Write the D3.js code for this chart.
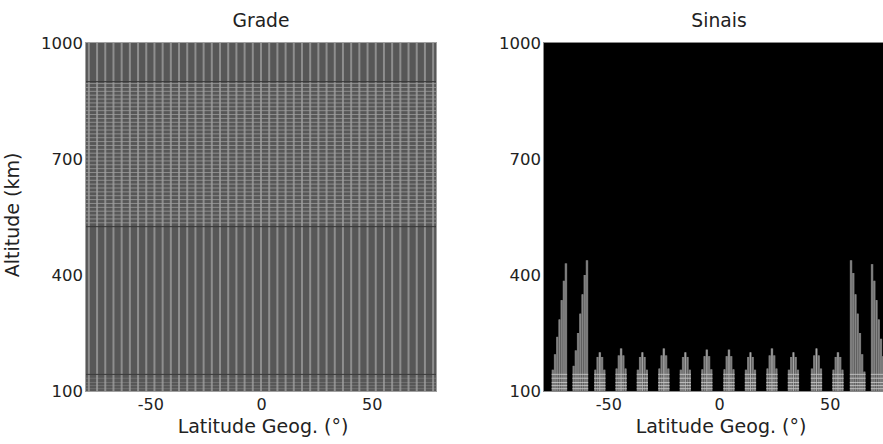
<!DOCTYPE html>
<html>
<head>
<meta charset="utf-8">
<script src="https://cdn.jsdelivr.net/npm/d3@7/dist/d3.min.js"></script>
<style>
  body { margin: 0; background: #fff; }
  text { font-family: "DejaVu Sans", sans-serif; fill: #222; }
</style>
</head>
<body>
<div id="chart"></div>
<script>
/* ============================================= */
/* Data */
/* ============================================= */

const latDomain = [-79, 79];
const altDomain = [100, 1000];
const xTicks = [-50, 0, 50];
const yTicks = [100, 400, 700, 1000];
const panelTitles = ['Grade', 'Sinais'];

// grid (left panel)
const gridLat = [-77.7, -74, -70.3, -66.6, -62.9, -59.2, -55.5, -51.8, -48.1, -44.4, -40.7,
    -37, -33.3, -29.6, -25.9, -22.2, -18.5, -14.8, -11.1, -7.4, -3.7, 0,
    3.7, 7.4, 11.1, 14.8, 18.5, 22.2, 25.9, 29.6, 33.3, 37, 40.7, 44.4,
    48.1, 51.8, 55.5, 59.2, 62.9, 66.6, 70.3, 74, 77.7];
const gridAltUpper = [895, 885, 875, 865, 855, 845, 835, 825, 815, 805, 795, 785, 775,
    765, 755, 745, 735, 725, 715, 705, 695, 685, 675, 665, 655, 645, 635, 625,
    615, 605, 595, 585, 575, 565, 555, 545, 535];
const gridAltLower = [106, 114, 122, 133, 143];
const gridBoundAlt = [900, 525, 143];

// signals (right panel): small spikes
const spikeLat = [-53.8, -44.2, -34.6, -24.9, -15.2, -5.5, 4.5, 14.2, 23.9, 33.6, 44.0, 53.7];
const spikePeak = [200, 210, 200, 210, 200, 207, 207, 200, 210, 200, 210, 200];
const spikeShoulder = [188, 192, 188, 192, 188, 190, 190, 188, 192, 188, 192, 188];
const spikeBase = [155, 158, 155, 158, 155, 156, 156, 155, 158, 155, 158, 155];

// signals (right panel): large spikes near the poles
const bigLat = [
    [-75.0, -74.0, -73.0, -72.0, -71.0, -70.0, -69.1],
    [-65.6, -64.6, -63.6, -62.6, -61.6, -60.6, -59.6],
    [59.6, 60.6, 61.6, 62.6, 63.6, 64.6, 65.6],
    [69.1, 70.1, 71.1, 72.1, 73.1, 74.1, 75.1]
];
const bigTop = [
    [155, 195, 240, 285, 335, 385, 430],
    [165, 205, 250, 300, 350, 400, 438],
    [438, 405, 350, 300, 250, 195, 150],
    [428, 385, 335, 285, 235, 190, 150]
];

/* ============================================= */
/* Layout */
/* ============================================= */

const width = 883, height = 444;
const plotTop = 43, plotBottom = 391;
const panels = [
    { x0: 86, x1: 436 },
    { x0: 544, x1: 894 }
];
const fmt = d => String(d);   // plain hyphen minus, as in the original

const svg = d3.select('#chart').append('svg')
    .attr('width', width)
    .attr('height', height);

const y = d3.scaleLinear().domain(altDomain).range([plotBottom, plotTop]);

panels.forEach((p, i) => {
    p.x = d3.scaleLinear().domain(latDomain).range([p.x0, p.x1]);
    svg.append('clipPath').attr('id', 'clip' + i)
        .append('rect')
        .attr('x', p.x0).attr('y', plotTop)
        .attr('width', p.x1 - p.x0).attr('height', plotBottom - plotTop);
    p.g = svg.append('g').attr('clip-path', `url(#clip${i})`);
});

/* ============================================= */
/* Left panel: grid */
/* ============================================= */

const L = panels[0];
L.g.append('rect')
    .attr('x', L.x0).attr('y', plotTop)
    .attr('width', L.x1 - L.x0).attr('height', plotBottom - plotTop)
    .style('fill', '#575757');

L.g.selectAll('.vgrid').data(gridLat).enter().append('line')
    .attr('class', 'vgrid')
    .attr('x1', d => L.x(d)).attr('x2', d => L.x(d))
    .attr('y1', plotTop).attr('y2', plotBottom)
    .style('stroke', '#8e8e8e')
    .style('stroke-width', 2);

L.g.selectAll('.hgrid').data(gridAltUpper).enter().append('line')
    .attr('class', 'hgrid')
    .attr('x1', L.x0).attr('x2', L.x1)
    .attr('y1', d => y(d)).attr('y2', d => y(d))
    .style('stroke', '#a0a0a0')
    .style('stroke-width', 1)
    .style('opacity', 0.75);

L.g.selectAll('.hgridLow').data(gridAltLower).enter().append('line')
    .attr('class', 'hgridLow')
    .attr('x1', L.x0).attr('x2', L.x1)
    .attr('y1', d => y(d)).attr('y2', d => y(d))
    .style('stroke', '#a8a8a8')
    .style('stroke-width', 1)
    .style('opacity', 0.3);

L.g.selectAll('.hbound').data(gridBoundAlt).enter().append('line')
    .attr('class', 'hbound')
    .attr('x1', L.x0).attr('x2', L.x1)
    .attr('y1', d => y(d)).attr('y2', d => y(d))
    .style('stroke', '#363636')
    .style('stroke-width', 1);

/* ============================================= */
/* Right panel: signals */
/* ============================================= */

const R = panels[1];
R.g.append('rect')
    .attr('x', R.x0).attr('y', plotTop)
    .attr('width', R.x1 - R.x0).attr('height', plotBottom - plotTop)
    .style('fill', '#000');

// build bars from spike arrays
const bars = [];
spikeLat.forEach((c, i) => {
    bars.push({ lat: c - 2, top: spikeBase[i] });
    bars.push({ lat: c - 1, top: spikeShoulder[i] });
    bars.push({ lat: c, top: spikePeak[i], center: true });
    bars.push({ lat: c + 1, top: spikeShoulder[i] });
    bars.push({ lat: c + 2, top: spikeBase[i] });
});
bigLat.forEach((lats, k) => {
    lats.forEach((lat, j) => bars.push({ lat: lat, top: bigTop[k][j] }));
});

R.g.selectAll('.bar').data(bars).enter().append('rect')
    .attr('class', 'bar')
    .attr('x', d => R.x(d.lat - 0.55))
    .attr('width', d => R.x(d.lat + 0.55) - R.x(d.lat - 0.55))
    .attr('y', d => y(d.top))
    .attr('height', d => y(altDomain[0]) - y(d.top))
    .style('fill', '#707070');

R.g.selectAll('.barline').data(bars).enter().append('line')
    .attr('class', 'barline')
    .attr('x1', d => R.x(d.lat)).attr('x2', d => R.x(d.lat))
    .attr('y1', d => y(d.top)).attr('y2', plotBottom)
    .style('stroke', d => d.center ? '#aaaaaa' : '#878787')
    .style('stroke-width', 1);

const stripes = [];
bars.forEach(b => gridAltLower.forEach(a => { if (a < b.top) stripes.push({ lat: b.lat, alt: a }); }));

R.g.selectAll('.stripe').data(stripes).enter().append('line')
    .attr('class', 'stripe')
    .attr('x1', d => R.x(d.lat - 0.55)).attr('x2', d => R.x(d.lat + 0.55))
    .attr('y1', d => y(d.alt)).attr('y2', d => y(d.alt))
    .style('stroke', '#bdbdbd')
    .style('stroke-width', 1);

/* ============================================= */
/* Axes, frames and labels */
/* ============================================= */

panels.forEach((p, i) => {
    svg.append('rect')
        .attr('x', p.x0 - 0.5).attr('y', plotTop - 0.5)
        .attr('width', p.x1 - p.x0 + 1).attr('height', plotBottom - plotTop + 1)
        .style('fill', 'none')
        .style('stroke', i === 0 ? '#a0a0a0' : '#8a8a8a')
        .style('stroke-width', 1);

    const ya = svg.append('g')
        .attr('transform', `translate(${p.x0},0)`)
        .call(d3.axisLeft(y).tickValues(yTicks).tickSize(0).tickPadding(3).tickFormat(fmt));
    ya.select('.domain').remove();
    ya.selectAll('text').style('font-size', '16.5px').style('font-family', '"DejaVu Sans", sans-serif');

    const xa = svg.append('g')
        .attr('transform', `translate(0,${plotBottom})`)
        .call(d3.axisBottom(p.x).tickValues(xTicks).tickSize(0).tickPadding(8).tickFormat(fmt));
    xa.select('.domain').remove();
    xa.selectAll('text').style('font-size', '16px').style('font-family', '"DejaVu Sans", sans-serif');

    const cx = (p.x(latDomain[0]) + p.x(latDomain[1])) / 2;

    svg.append('text')
        .attr('x', cx).attr('y', 27)
        .attr('text-anchor', 'middle')
        .style('font-size', '18.7px')
        .text(panelTitles[i]);

    svg.append('text')
        .attr('x', cx + 2).attr('y', 433)
        .attr('text-anchor', 'middle')
        .style('font-size', '19px')
        .text('Latitude Geog. (°)');
});

svg.append('text')
    .attr('transform', `translate(19,${(plotTop + plotBottom) / 2 - 2}) rotate(-90)`)
    .attr('text-anchor', 'middle')
    .style('font-size', '19px')
    .text('Altitude (km)');
</script>
</body>
</html>
